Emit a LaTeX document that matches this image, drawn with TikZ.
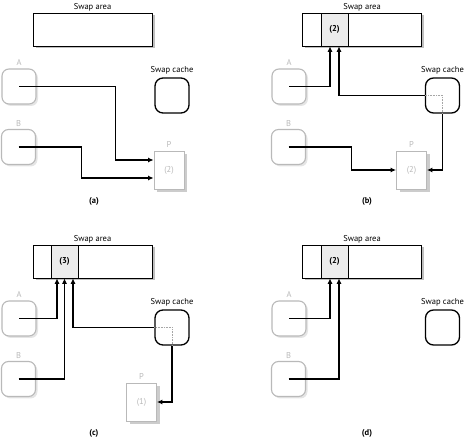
\documentclass[tikz,border=0pt]{standalone}
\usepackage{fontspec}
\setmainfont{PT Sans}
\usepackage{tikz}
\usetikzlibrary{arrows.meta,calc,positioning,shadows}
\definecolor{pagegray}{RGB}{185,185,185}
\definecolor{slotgray}{RGB}{236,236,236}

\begin{document}
\begin{tikzpicture}[x=1pt,y=-1pt,
  lbl/.style={font=\fontsize{8.5}{10}\selectfont,inner sep=0.5pt},
  dim/.style={lbl,text=pagegray},
  subcap/.style={font=\fontsize{8.5}{10}\selectfont\bfseries,inner sep=0pt},
  area/.style={draw,line width=0.6pt,fill=white,minimum width=119pt,minimum height=33pt,inner sep=0pt,
    drop shadow={shadow xshift=2.5pt,shadow yshift=-2.5pt,fill=gray!50,opacity=1}},
  slot/.style={draw,line width=0.6pt,fill=slotgray,minimum width=27pt,minimum height=33pt,inner sep=0pt,
    font=\fontsize{8.5}{10}\selectfont\bfseries},
  proc/.style={draw=pagegray,line width=1.1pt,fill=white,rounded corners=7pt,minimum width=34pt,minimum height=35pt,
    drop shadow={shadow xshift=2pt,shadow yshift=-2pt,fill=gray!20,opacity=1}},
  cache/.style={draw,line width=1.3pt,fill=white,rounded corners=8pt,minimum width=34pt,minimum height=35pt},
  page/.style={draw=pagegray,line width=0.8pt,fill=white,minimum width=30pt,minimum height=38pt,inner sep=0pt,
    text=pagegray,font=\fontsize{8.5}{10}\selectfont,
    drop shadow={shadow xshift=3pt,shadow yshift=-3pt,fill=gray!40,opacity=1}},
  arr/.style={-{Latex[length=5.5pt,width=5pt]},line width=1.1pt},
  dots/.style={densely dotted,gray!70,line width=0.6pt}
]
\useasboundingbox (0,0) rectangle (467,441);

% (a)
\node[area] (areaa) at (92.5,29.5) {};
\node[lbl,above=1pt of areaa] (areaalbl) {Swap area};
\node[proc] (Aa) at (19,86.5) {};
\node[dim,above=2pt of Aa] (Aalbl) {A};
\node[proc] (Ba) at (18.5,147) {};
\node[dim,above=2pt of Ba] (Balbl) {B};
\node[cache] (Ca) at (172,95.5) {};
\node[lbl,above=2pt of Ca] (Calbl) {Swap cache};
\node[page] (Pa) at (169,170) {(2)};
\node[dim,above=2pt of Pa] (Palbl) {P};
\draw[arr] (Aa.center) -| ([xshift=-38,yshift=10]Pa.west) -- ([yshift=10]Pa.west);
\draw[arr] (Ba.center) -| ([xshift=-72,yshift=-8]Pa.west) -- ([yshift=-8]Pa.west);
\node[subcap] (capa) at (94,201) {(a)};

% (b)
\node[area] (areab) at (362,29.5) {};
\node[slot] (slotb) at (334.5,29.5) {(2)};
\node[lbl,above=1pt of areab] (areablbl) {Swap area};
\node[proc] (Ab) at (289,86.5) {};
\node[dim,above=2pt of Ab] (Ablbl) {A};
\node[proc] (Bb) at (288.5,147) {};
\node[dim,above=2pt of Bb] (Bblbl) {B};
\node[cache] (Cb) at (442.5,95.5) {};
\node[lbl,above=2pt of Cb] (Cblbl) {Swap cache};
\node[page] (Pb) at (411.5,170) {(2)};
\node[dim,above=2pt of Pb] (Pblbl) {P};
\draw[dots] (Cb.west) -| (Cb.south);
\draw[arr] (Ab.center) -| ([xshift=-4.5]slotb.south);
\draw[arr] (Cb.west) -| ([xshift=4.5]slotb.south);
\draw[arr] (Cb.south) |- (Pb.east);
\draw[arr] (Bb.center) -| ([xshift=-44.5]Pb.west) -- (Pb.west);
\node[subcap] (capb) at (367,201) {(b)};

% (c)
\node[area] (areac) at (92.5,261.5) {};
\node[slot] (slotc) at (64.5,261.5) {(3)};
\node[lbl,above=1pt of areac] (areaclbl) {Swap area};
\node[proc] (Ac) at (19,318.5) {};
\node[dim,above=2pt of Ac] (Aclbl) {A};
\node[proc] (Bc) at (18.5,379) {};
\node[dim,above=2pt of Bc] (Bclbl) {B};
\node[cache] (Cc) at (172,327.5) {};
\node[lbl,above=2pt of Cc] (Cclbl) {Swap cache};
\node[page] (Pc) at (141.5,402) {(1)};
\node[dim,above=2pt of Pc] (Pclbl) {P};
\draw[dots] (Cc.west) -| (Cc.south);
\draw[arr] (Ac.center) -| ([xshift=-7.5]slotc.south);
\draw[arr] (Bc.center) -| (slotc.south);
\draw[arr] (Cc.west) -| ([xshift=8.5]slotc.south);
\draw[arr] (Cc.south) |- (Pc.east);
\node[subcap] (capc) at (94,433) {(c)};

% (d)
\node[area] (aread) at (362,261.5) {};
\node[slot] (slotd) at (334.5,261.5) {(2)};
\node[lbl,above=1pt of aread] (areadlbl) {Swap area};
\node[proc] (Ad) at (289,318.5) {};
\node[dim,above=2pt of Ad] (Adlbl) {A};
\node[proc] (Bd) at (288.5,379) {};
\node[dim,above=2pt of Bd] (Bdlbl) {B};
\node[cache] (Cd) at (442.5,327.5) {};
\node[lbl,above=2pt of Cd] (Cdlbl) {Swap cache};
\draw[arr] (Ad.center) -| ([xshift=-4.5]slotd.south);
\draw[arr] (Bd.center) -| ([xshift=4.5]slotd.south);
\node[subcap] (capd) at (367,433) {(d)};
\end{tikzpicture}
\end{document}
